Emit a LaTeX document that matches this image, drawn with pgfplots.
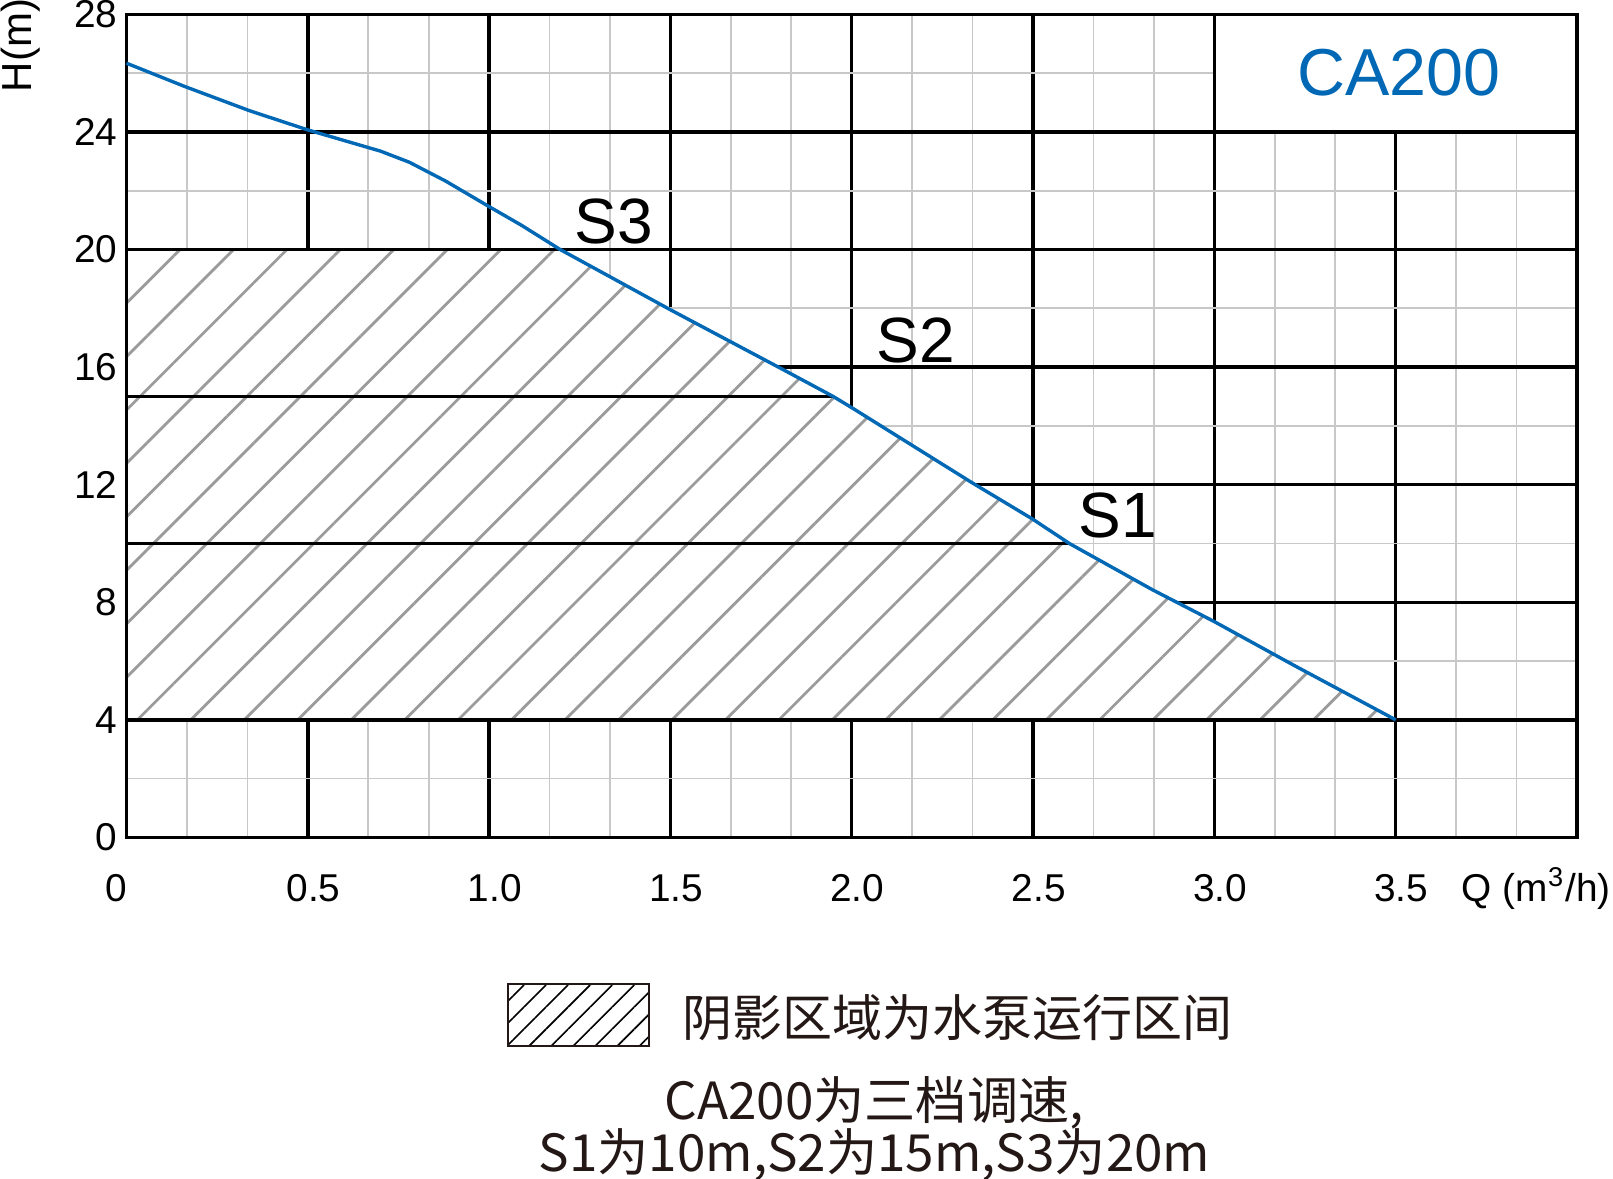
\documentclass[border=0pt]{standalone}
\usepackage{fontspec}
\setmainfont{Liberation Sans}
\newfontfamily\cjk{Noto Sans CJK SC}
\usepackage{pgfplots}
\usepackage{pgfplotstable}
\pgfplotsset{compat=1.18}
\usetikzlibrary{patterns.meta}
\definecolor{curveblue}{RGB}{0,104,180}
\definecolor{hatchgray}{RGB}{155,155,155}
\definecolor{minorgray}{RGB}{200,200,200}
\definecolor{textdark}{RGB}{35,24,21}

\pgfplotstableread{
q h
0 26.34
0.16 25.55
0.34 24.72
0.5 24.07
0.70 23.35
0.78 22.97
0.88 22.33
1.0 21.46
1.09 20.82
1.196 20.0
1.5 17.95
1.81 15.92
1.949 15.0
2.0 14.62
2.33 12.08
2.5 10.82
2.6 10.0
2.83 8.42
3.0 7.34
3.22 5.85
3.5 4.0
}\curvetable

\pgfplotstableread{
q h
0 4
0 20
1.196 20.0
1.5 17.95
1.81 15.92
1.949 15.0
2.0 14.62
2.33 12.08
2.5 10.82
2.6 10.0
2.83 8.42
3.0 7.34
3.22 5.85
3.5 4.0
}\regiontable

\begin{document}
\begin{tikzpicture}
\begin{axis}[
  at={(0,0)}, anchor=south west,
  scale only axis, width=362.625pt, height=205.75pt,
  xmin=0, xmax=4, ymin=0, ymax=28,
  xtick={0,0.5,1,1.5,2,2.5,3,3.5,4},
  xticklabels={{\makebox[0pt]{\hspace*{-8pt}0}},0.5,1.0,1.5,2.0,2.5,3.0,3.5,{}},
  ytick={0,4,8,12,16,20,24,28},
  minor x tick num=2, minor y tick num=1,
  major tick length=0pt, minor tick length=0pt,
  grid=both,
  major grid style={black, line width=0.85pt},
  minor grid style={minorgray, line width=0.42pt},
  axis line style={line width=0.9pt},
  tick label style={font=\fontsize{9.7pt}{10pt}\selectfont},
  xticklabel style={anchor=base, yshift=-15.9pt, xshift=1.4pt, inner sep=0pt},
  yticklabel style={anchor=east, xshift=-2.1pt, inner sep=0pt},
  /pgf/number format/assume math mode=true,
  clip=false,
]
% operating region: white background then hatch
\addplot[fill=white, draw=none] table[x=q, y=h] {\regiontable};
\addplot[draw=none, pattern={Lines[angle=45,distance=9.45pt,line width=0.7pt]}, pattern color=hatchgray] table[x=q, y=h] {\regiontable};
% redraw grid lines on the region border
\draw[black, line width=0.85pt] (axis cs:0,4) -- (axis cs:4,4);
\draw[black, line width=0.85pt] (axis cs:0,20) -- (axis cs:1.3,20);
% speed settings S2 and S1
\addplot[black, line width=0.9pt] coordinates {(0,15) (1.949,15)};
\addplot[black, line width=0.55pt] coordinates {(0,10) (2.6,10)};
% model box
\fill[white] (axis cs:3,24) rectangle (axis cs:4,28);
\draw[black, line width=0.85pt] (axis cs:3,24) -- (axis cs:3,28);
\draw[black, line width=0.85pt] (axis cs:3,24) -- (axis cs:4,24);
% frame
\draw[black, line width=0.9pt, line join=miter] (rel axis cs:0,0) rectangle (rel axis cs:1,1);
% pump curve
\addplot[curveblue, line width=0.85pt] table[x=q, y=h] {\curvetable};
% labels
\node[anchor=base west, inner sep=0pt, font=\fontsize{16pt}{17pt}\selectfont] at (axis cs:1.234,20.21) {S3};
\node[anchor=base west, inner sep=0pt, font=\fontsize{16pt}{17pt}\selectfont] at (axis cs:2.066,16.15) {S2};
\node[anchor=base west, inner sep=0pt, font=\fontsize{16pt}{17pt}\selectfont] at (axis cs:2.624,10.21) {S1};
\node[inner sep=0pt, text=curveblue, font=\fontsize{16.6pt}{17pt}\selectfont] at (axis cs:3.509,26.02) {CA200};
\end{axis}
% axis titles
\node[rotate=90, anchor=base, inner sep=0pt, font=\fontsize{10.5pt}{11pt}\selectfont] at (-23.7pt,198pt) {H(m)};
\node[anchor=base east, inner sep=0pt, font=\fontsize{9.7pt}{10pt}\selectfont] at (371.2pt,-15.9pt) {Q (m\textsuperscript{3}/h)};
% legend
\path[pattern={Lines[angle=45,distance=3.9pt,line width=0.4pt]}, pattern color=black] (95.4pt,-52.15pt) rectangle (130.6pt,-36.65pt);
\draw[textdark, line width=0.5pt] (95.4pt,-52.15pt) rectangle (130.6pt,-36.65pt);
\node[anchor=west, inner sep=0pt, text=textdark, font=\cjk\fontsize{12.5pt}{13pt}\selectfont] at (138.9pt,-45.15pt) {阴影区域为水泵运行区间};
\node[inner sep=0pt, text=textdark, font=\cjk\fontsize{12.8pt}{13pt}\selectfont] at (186.9pt,-66.4pt) {CA200为三档调速,};
\node[inner sep=0pt, text=textdark, font=\cjk\fontsize{12.8pt}{13pt}\selectfont] at (187pt,-79.4pt) {S1为10m,S2为15m,S3为20m};
\pgfresetboundingbox
\useasboundingbox (-31.625pt,-85.15pt) rectangle (371.625pt,209.35pt);
\end{tikzpicture}
\end{document}
